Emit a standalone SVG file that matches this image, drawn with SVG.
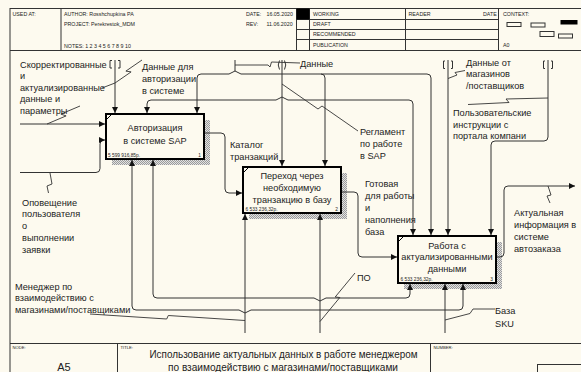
<svg xmlns="http://www.w3.org/2000/svg" width="581" height="372" viewBox="0 0 581 372">
<defs>
<marker id="ah" markerUnits="userSpaceOnUse" markerWidth="7" markerHeight="6" refX="6" refY="3" orient="auto">
<path d="M0,0 L6,3 L0,6 z" fill="#111"/>
</marker>
<pattern id="hatch" width="2" height="2" patternUnits="userSpaceOnUse">
<rect width="2" height="2" fill="#e2e2e2"/>
<rect width="1" height="1" fill="#9a9a9a"/>
<rect x="1" y="1" width="1" height="1" fill="#9a9a9a"/>
</pattern>
<style>
.frame{fill:none;stroke:#333;stroke-width:1}
.hd{font-family:"Liberation Sans",Arial,sans-serif;font-size:5.3px;fill:#222}
.ft{font-family:"Liberation Sans",Arial,sans-serif;font-size:4.2px;fill:#222}
.lbl{font-family:"Liberation Sans",Arial,sans-serif;font-size:9.2px;fill:#222}
.bx{font-family:"Liberation Sans",Arial,sans-serif;font-size:9.2px;fill:#222;text-anchor:middle}
.cost{font-family:"Liberation Sans",Arial,sans-serif;font-size:4.8px;fill:#222;text-decoration:underline}
.num{font-family:"Liberation Sans",Arial,sans-serif;font-size:4.8px;fill:#222;text-anchor:end}
.box{fill:#fdfaef;stroke:#000;stroke-width:2}
.shadow{fill:url(#hatch)}
.ln{fill:none;stroke:#333;stroke-width:1}
.arr{marker-end:url(#ah)}
.sq{fill:none;stroke:#333;stroke-width:0.9}
.tn{fill:none;stroke:#333;stroke-width:1}
.mark{stroke:#000;stroke-width:1}
</style>
</defs>
<rect x="0" y="0" width="581" height="372" fill="#fdfaef"/>

<g id="frame">
<rect class="frame" x="10" y="8.5" width="580" height="370"/>
<line class="frame" x1="10" y1="50.5" x2="590" y2="50.5"/>
<line class="frame" x1="61" y1="8.5" x2="61" y2="50.5"/>
<line class="frame" x1="296.5" y1="8.5" x2="296.5" y2="50.5"/>
<line class="frame" x1="309.5" y1="8.5" x2="309.5" y2="50.5"/>
<line class="frame" x1="405.5" y1="8.5" x2="405.5" y2="50.5"/>
<line class="frame" x1="498.5" y1="8.5" x2="498.5" y2="50.5"/>
<line class="frame" x1="296.5" y1="19.5" x2="498.5" y2="19.5"/>
<line class="frame" x1="296.5" y1="29.5" x2="498.5" y2="29.5"/>
<line class="frame" x1="296.5" y1="39.5" x2="498.5" y2="39.5"/>
<rect x="296.5" y="8.5" width="13" height="11" fill="#000"/>
<rect class="frame" x="507" y="22.5" width="14" height="4"/>
<rect class="frame" x="531" y="23" width="14" height="4"/>
<rect x="560.5" y="20" width="17" height="4.5" fill="#000"/>
<rect class="frame" x="540" y="31.5" width="14" height="5"/>
<rect class="frame" x="558.5" y="34" width="14" height="4"/>
<line class="frame" x1="10" y1="343.5" x2="590" y2="343.5"/>
<line class="frame" x1="117.5" y1="343.5" x2="117.5" y2="372"/>
<line class="frame" x1="430.5" y1="343.5" x2="430.5" y2="372"/>
<rect class="frame" x="537.5" y="364.5" width="60" height="20"/>
<text class="hd" x="12.5" y="16">USED AT:</text>
<text class="hd" x="64" y="16">AUTHOR:  Rosshchupkina PA</text>
<text class="hd" x="64" y="26">PROJECT:  Perekrestok_MDM</text>
<text class="hd" x="64" y="47.5">NOTES:  1  2  3  4  5  6  7  8  9  10</text>
<text class="hd" x="246" y="16">DATE:</text>
<text class="hd" x="266.5" y="16">16.05.2020</text>
<text class="hd" x="246" y="26">REV:</text>
<text class="hd" x="266.5" y="26">11.06.2020</text>
<text class="hd" x="313" y="16">WORKING</text>
<text class="hd" x="313" y="26">DRAFT</text>
<text class="hd" x="313" y="36">RECOMMENDED</text>
<text class="hd" x="313" y="47">PUBLICATION</text>
<text class="hd" x="408.5" y="16">READER</text>
<text class="hd" x="483" y="16">DATE</text>
<text class="hd" x="503" y="16">CONTEXT:</text>
<text class="hd" x="503" y="47">A0</text>
<text class="ft" x="12.5" y="349">NODE:</text>
<text class="ft" x="120.5" y="349">TITLE:</text>
<text class="ft" x="433.5" y="349">NUMBER:</text>
<text x="64" y="370.5" font-family="Liberation Sans, Arial, sans-serif" font-size="11" fill="#222" text-anchor="middle">A5</text>
<text x="283.5" y="357.5" font-family="Liberation Sans, Arial, sans-serif" font-size="10.5" fill="#222" text-anchor="middle" textLength="268" lengthAdjust="spacingAndGlyphs">Использование актуальных  данных в работе менеджером</text>
<text x="283" y="370.5" font-family="Liberation Sans, Arial, sans-serif" font-size="10.5" fill="#222" text-anchor="middle" textLength="230" lengthAdjust="spacingAndGlyphs">по взаимодействию  с магазинами/поставщиками</text>
</g>

<g id="shadows">
<path class="shadow" d="M204,120 H210 V165 H112 V159 H204 Z"/>
<path class="shadow" d="M341,173 H347 V219 H249 V213 H341 Z"/>
<path class="shadow" d="M496,242 H502 V289 H404 V283 H496 Z"/>
</g>

<g id="connectors">
<path class="ln arr" d="M20,124 H105"/>
<path class="ln arr" d="M20,172.5 H96 Q100,172.5 100,168.5 V144 Q100,140 104,140 H105"/>
<path class="ln arr" d="M115,60 V113"/>
<path class="ln arr" d="M282,60 V166"/>
<path class="ln arr" d="M282,97 L276,100 H151 Q147,100 147,104 V113"/>
<path class="ln arr" d="M282,97 L288,100 H409 Q413,100 413,104 V235"/>
<path class="ln" d="M235,60 V71"/>
<path class="ln arr" d="M235,71 L229,74 H201 Q197,74 197,78 V113"/>
<path class="ln arr" d="M235,71 L241,74 H427 Q431,74 431,78 V235"/>
<path class="ln arr" d="M321,74 Q325,74 325,78 V166"/>
<path class="ln arr" d="M448,60 V235"/>
<path class="ln arr" d="M548,60 V137 Q548,141 544,141 H495 Q491,141 491,145 V235"/>
<path class="ln arr" d="M204,133 H221 Q225,133 225,137 V189 Q225,193 229,193 H242"/>
<path class="ln arr" d="M341,192 H354 Q358,192 358,196 V253 Q358,257 362,257 H397"/>
<path class="ln arr" d="M496,257 H500 Q504,257 504,253 V190 Q504,186 508,186 H575"/>
<path class="ln arr" d="M245,333 V214"/>
<path class="ln arr" d="M245,313 L239,310 H136 Q132,310 132,306 V160"/>
<path class="ln arr" d="M245,313 L251,310 H459 Q463,310 463,306 V284"/>
<path class="ln arr" d="M320,333 V214"/>
<path class="ln arr" d="M320,301 L314,298 H157 Q153,298 153,294 V160"/>
<path class="ln arr" d="M320,301 L326,298 H406 Q410,298 410,294 V284"/>
<path class="ln arr" d="M445,333 V284"/>
<path class="tn" d="M112,60.5 H110 V68 H112 M118,60.5 H120 V68 H118"/>
<path class="tn" d="M279.5,60.5 Q277,65 279.5,69.5 M284.5,60.5 Q287,65 284.5,69.5"/>
<path class="tn" d="M445,61 H443.5 V68.5 H445 M451,61 H452.5 V68.5 H451"/>
<path class="tn" d="M545,61 H543.5 V68.5 H545 M551,61 H552.5 V68.5 H551"/>
<path class="sq" d="M47,124 L66.1,115.9 L60.9,114.1 L80,106"/>
<path class="sq" d="M102,88 L115,83 L131.1,71.9 L125.9,71.1 L142,60"/>
<path class="sq" d="M235,65 L268,65 L270,67 L271.5,62 L300,63"/>
<path class="sq" d="M282,84 L318,109 L322,106 L358,131"/>
<path class="sq" d="M448,78.5 L457,75 L455,72.5 L465,70.5"/>
<path class="sq" d="M468,104.5 L509,102.5 L506,99 L548,98"/>
<path class="sq" d="M50,173 L52,184 L47,186 L48.5,193"/>
<path class="sq" d="M548,186 L551,195 L547,196 L550,203"/>
<path class="sq" d="M90,314 L166.7,319 L168.3,315.5 L245,320.5"/>
<path class="sq" d="M320,321.5 L339.8,297.5 L335.2,297 L355,273"/>
<path class="sq" d="M445,320 L470,313.5 L473,309 L495,309"/>
</g>

<g id="node-1">
<rect class="box" x="106" y="114" width="98" height="45"/>
<line class="mark" x1="107" y1="119" x2="112" y2="114"/>
<text class="bx" x="155" y="131">Авторизация</text>
<text class="bx" x="155" y="143.5">в системе SAP</text>
<text class="cost" x="108" y="157">5 599 916,85р.</text>
<text class="num" x="201" y="157">1</text>
</g>

<g id="node-2">
<rect class="box" x="243" y="167" width="98" height="46"/>
<line class="mark" x1="244" y1="172" x2="249" y2="167"/>
<text class="bx" x="292" y="178.5">Переход через</text>
<text class="bx" x="292" y="190.5">необходимую</text>
<text class="bx" x="292" y="202.5">транзакцию в базу</text>
<text class="cost" x="245.5" y="211">6 533 236,32р.</text>
<text class="num" x="338" y="211">2</text>
</g>

<g id="node-3">
<rect class="box" x="398" y="236" width="98" height="47"/>
<line class="mark" x1="399" y1="241" x2="404" y2="236"/>
<text class="bx" x="447" y="248.5">Работа с</text>
<text class="bx" x="447" y="260">актуализированными</text>
<text class="bx" x="447" y="271.8">данными</text>
<text class="cost" x="400.5" y="281">6 533 236,32р.</text>
<text class="num" x="493" y="281">3</text>
</g>

<g id="labels">
<text class="lbl" x="20" y="67.5">Скорректированные</text>
<text class="lbl" x="20" y="79">и</text>
<text class="lbl" x="20" y="90.5">актуализированные</text>
<text class="lbl" x="20" y="102">данные и</text>
<text class="lbl" x="20" y="113.5">параметры</text>
<text class="lbl" x="142" y="70">Данные для</text>
<text class="lbl" x="142" y="82">авторизации</text>
<text class="lbl" x="142" y="94">в системе</text>
<text class="lbl" x="300" y="66.5">Данные</text>
<text class="lbl" x="360" y="134.5">Регламент</text>
<text class="lbl" x="360" y="146.5">по работе</text>
<text class="lbl" x="360" y="158.5">в SAP</text>
<text class="lbl" x="230" y="147.5">Каталог</text>
<text class="lbl" x="230" y="159.5">транзакций</text>
<text class="lbl" x="466" y="65.5">Данные от</text>
<text class="lbl" x="466" y="77">магазинов</text>
<text class="lbl" x="466" y="88.5">/поставщиков</text>
<text class="lbl" x="453" y="115.5">Пользовательские</text>
<text class="lbl" x="453" y="127.5">инструкции с</text>
<text class="lbl" x="453" y="139">портала компани</text>
<text class="lbl" x="365" y="186.5">Готовая</text>
<text class="lbl" x="365" y="198.5">для работы</text>
<text class="lbl" x="365" y="210.5">и</text>
<text class="lbl" x="365" y="222.5">наполнения</text>
<text class="lbl" x="365" y="234.5">база</text>
<text class="lbl" x="514" y="215.5">Актуальная</text>
<text class="lbl" x="514" y="227.5">информация в</text>
<text class="lbl" x="514" y="239.5">системе</text>
<text class="lbl" x="514" y="251.5">автозаказа</text>
<text class="lbl" x="22" y="205.5">Оповещение</text>
<text class="lbl" x="22" y="217.3">пользователя</text>
<text class="lbl" x="22" y="229">о</text>
<text class="lbl" x="22" y="240.8">выполнении</text>
<text class="lbl" x="22" y="252.5">заявки</text>
<text class="lbl" x="15" y="289.5">Менеджер по</text>
<text class="lbl" x="15" y="301">взаимодействию с</text>
<text class="lbl" x="15" y="312.5">магазинами/поставщиками</text>
<text class="lbl" x="357" y="280.5">ПО</text>
<text class="lbl" x="495" y="313.5">База</text>
<text class="lbl" x="495" y="326.5">SKU</text>
</g>
</svg>
